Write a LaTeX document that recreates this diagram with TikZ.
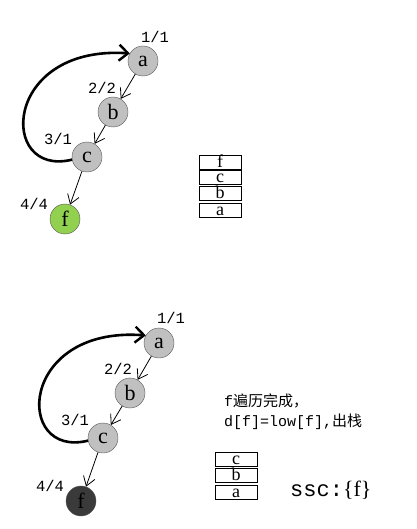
\documentclass[tikz,border=0pt]{standalone}
\usepackage{fontspec}
\setmainfont{Liberation Serif}
\newfontfamily\cjk{Noto Sans CJK SC}
\newfontfamily\monof{Liberation Mono}
\usetikzlibrary{arrows.meta}
\definecolor{nodegray}{HTML}{C0C0C0}
\definecolor{nodeedge}{HTML}{555555}
\definecolor{fgreen}{HTML}{92D050}
\definecolor{fdark}{HTML}{3A3A3A}
\tikzset{
  vert/.style={circle,draw=nodeedge,fill=nodegray,minimum size=30pt,inner sep=0pt,font=\fontsize{22}{22}\selectfont},
  tag/.style={font=\monof\fontsize{15.5}{15.5}\selectfont,inner sep=0pt},
  tree/.style={-{Straight Barb[length=9pt,width=12pt]},line width=0.8pt},
  back/.style={-{Straight Barb[length=9pt,width=16pt,line width=2.4pt]},line width=2.6pt},
  cell/.style={draw,line width=0.8pt,minimum width=42pt,minimum height=13.5pt,inner sep=0pt,text height=10pt,text depth=0.5pt,font=\fontsize{18}{18}\selectfont},
}
\begin{document}
\begin{tikzpicture}[x=1pt,y=-1pt]
\useasboundingbox (0,0) rectangle (416,529);
% top graph
\node[vert] (a1) at (143,61) {a};
\node[vert] (b1) at (113,112) {b};
\node[vert] (c1) at (87,157) {c};
\node[vert,fill=fgreen] (f1) at (65,219) {f};
\node[tag] (la1) at (155,37) {1/1};
\node[tag] (lb1) at (102,88) {2/2};
\node[tag] (lc1) at (58,139) {3/1};
\node[tag] (lf1) at (34,204) {4/4};
\draw[tree] (a1) -- (b1);
\draw[tree] (b1) -- (c1);
\draw[tree] (c1) -- (f1);
\draw[back] (c1.190) .. controls (-2,178) and (2,45) .. (a1.150);
% top stack
\node[cell] (sf1) at (220,162.5) {f};
\node[cell] (sc1) at (220,177.5) {c};
\node[cell] (sb1) at (220,193.5) {b};
\node[cell] (sa1) at (220,210.5) {a};
% bottom graph
\node[vert] (a2) at (159,343) {a};
\node[vert] (b2) at (130,393) {b};
\node[vert] (c2) at (103,438) {c};
\node[vert,fill=fdark] (f2) at (81,501) {f};
\node[tag] (la2) at (171,318) {1/1};
\node[tag] (lb2) at (118,369) {2/2};
\node[tag] (lc2) at (75,420) {3/1};
\node[tag] (lf2) at (50,486) {4/4};
\draw[tree] (a2) -- (b2);
\draw[tree] (b2) -- (c2);
\draw[tree] (c2) -- (f2);
\draw[back] (c2.190) .. controls (14,459) and (18,326) .. (a2.150);
% bottom stack
\node[cell] (sc2) at (236,459.5) {c};
\node[cell] (sb2) at (236,475.5) {b};
\node[cell] (sa2) at (236,492.5) {a};
% text
\node[anchor=west,inner sep=0pt,font=\fontsize{15}{15}\selectfont] (t1) at (224,401) {\monof f\cjk 遍历完成，};
\node[anchor=west,inner sep=0pt,font=\fontsize{15}{15}\selectfont] (t2) at (224,422) {\monof d[f]=low[f],\cjk 出栈};
\node[anchor=west,inner sep=0pt,font=\fontsize{22}{22}\selectfont] (ssc) at (290,490) {\monof ssc:\rmfamily\{f\}};
\end{tikzpicture}
\end{document}
